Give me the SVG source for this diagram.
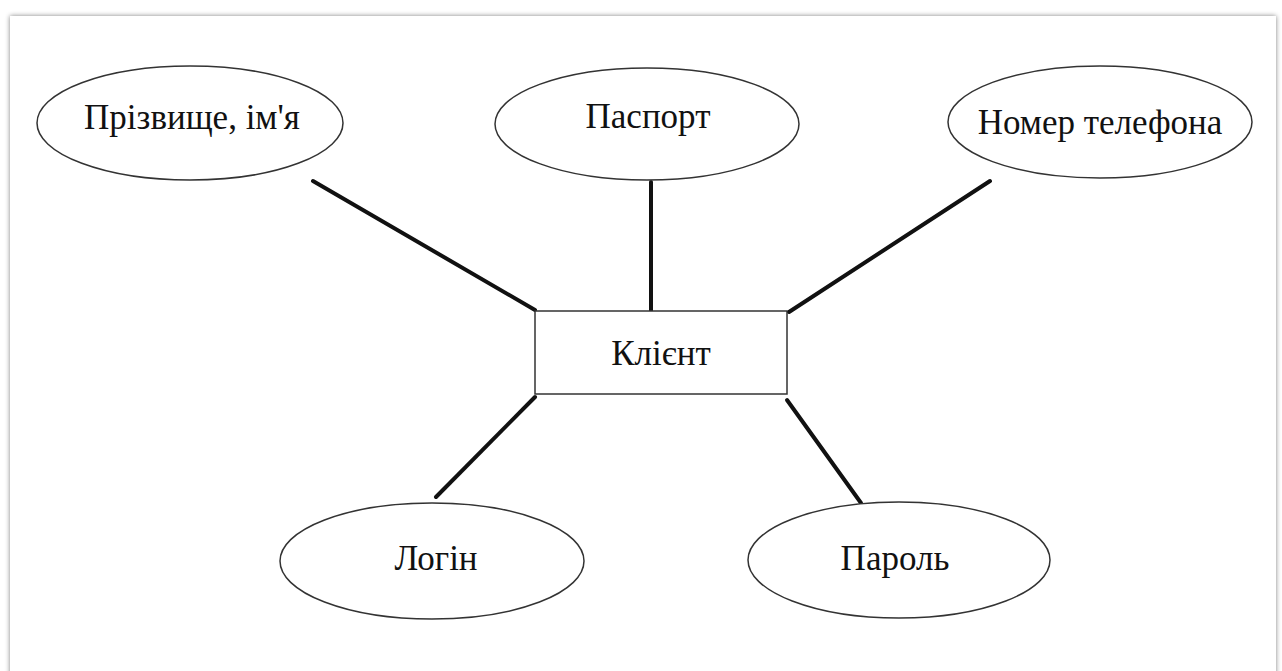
<svg xmlns="http://www.w3.org/2000/svg" width="1282" height="671" viewBox="0 0 1282 671">
<defs>
<filter id="sh" x="-5%" y="-5%" width="110%" height="110%">
<feGaussianBlur in="SourceAlpha" stdDeviation="2.5"/>
<feComponentTransfer><feFuncA type="linear" slope="0.5"/></feComponentTransfer>
<feMerge><feMergeNode/><feMergeNode in="SourceGraphic"/></feMerge>
</filter>
</defs>
<style>
.n{fill:#fff;stroke:#333;stroke-width:1.5}
.t{font-family:"Liberation Serif","Times New Roman",serif;font-size:35px;fill:#111;text-anchor:middle;dominant-baseline:central}
.c{stroke:#111;stroke-width:4;stroke-linecap:round}
</style>
<rect width="1282" height="671" fill="#fff"/>
<rect x="10" y="16" width="1266" height="700" fill="#fff" filter="url(#sh)"/>
<g id="connectors">
<line class="c" x1="313" y1="181" x2="535" y2="310"/>
<line class="c" x1="651" y1="182" x2="651" y2="311"/>
<line class="c" x1="990" y1="181" x2="789" y2="312"/>
<line class="c" x1="535" y1="397" x2="436" y2="497"/>
<line class="c" x1="787" y1="400" x2="861" y2="503"/>
</g>
<g id="n-name"><ellipse class="n" cx="190" cy="123" rx="153" ry="57"/><text class="t" x="192" y="117">Прізвище, ім'я</text></g>
<g id="n-passport"><ellipse class="n" cx="647" cy="124" rx="152" ry="56"/><text class="t" x="648" y="116">Паспорт</text></g>
<g id="n-phone"><ellipse class="n" cx="1100" cy="122" rx="152" ry="56"/><text class="t" x="1100" y="122">Номер телефона</text></g>
<g id="n-client"><rect class="n" x="535" y="311" width="252" height="83"/><text class="t" x="661" y="353">Клієнт</text></g>
<g id="n-login"><ellipse class="n" cx="432" cy="561" rx="152" ry="58"/><text class="t" x="436" y="558">Логін</text></g>
<g id="n-password"><ellipse class="n" cx="899" cy="560" rx="151" ry="58"/><text class="t" x="895" y="558">Пароль</text></g>
</svg>
